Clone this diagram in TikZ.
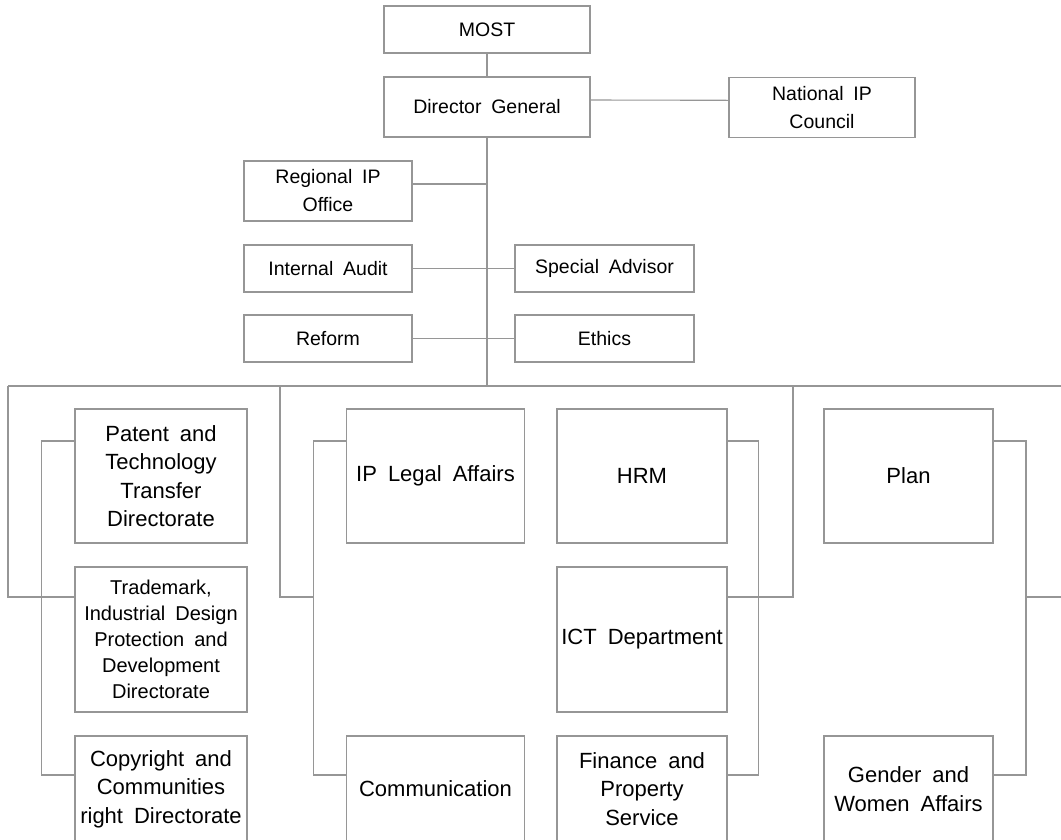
\documentclass[tikz,border=0pt]{standalone}
\usepackage{fontspec}
\setmainfont[WordSpace=1.8]{Liberation Sans}
\usepackage{tikz}
\definecolor{linegray}{RGB}{150,150,150}

\begin{document}
\begin{tikzpicture}[x=1pt, y=-1pt,
    unit/.style={draw=linegray, line width=1.1pt, inner sep=0pt, align=center},
    office/.style={unit, font=\fontsize{19.5}{28}\selectfont},
    dept/.style={unit, font=\fontsize{22}{28.5}\selectfont, minimum height=134pt},
    link/.style={draw=linegray, line width=1.1pt}]
  \useasboundingbox (0,0) rectangle (1061,839);
  \clip (0,0) rectangle (1061,839);
  % top of the chart
  \node (most) at (487,29.5) [office, minimum width=206pt, minimum height=47pt] {MOST};
  \node (dg) at (487,107) [office, minimum width=206pt, minimum height=60pt] {Director General};
  \node (council) at (822,107.3) [office, minimum width=186pt, minimum height=60pt] {National IP\\Council};
  \node (regional) at (328,191) [office, minimum width=168pt, minimum height=60pt] {Regional IP\\Office};
  \node (audit) at (328,268.5) [office, minimum width=168pt, minimum height=47pt] {Internal Audit};
  \node (advisor) at (604.5,268.5) [office, minimum width=179pt, minimum height=47pt] {Special Advisor};
  \node (reform) at (328,338.5) [office, minimum width=168pt, minimum height=47pt] {Reform};
  \node (ethics) at (604.5,338.5) [office, minimum width=179pt, minimum height=47pt] {Ethics};
  % directorates and departments
  \node (patent) at (161,476) [dept, minimum width=172pt] {Patent and\\Technology\\Transfer\\Directorate};
  \node (trademark) at (161,639.5) [dept, minimum width=172pt, minimum height=145pt, font=\fontsize{20}{26}\selectfont] {Trademark,\\Industrial Design\\Protection and\\Development\\Directorate};
  \node (copyright) at (161,789) [dept, minimum width=172pt, minimum height=106pt] {Copyright and\\Communities\\right Directorate};
  \node (legal) at (435.5,476) [dept, minimum width=178pt] {IP Legal Affairs};
  \node (comm) at (435.5,789) [dept, minimum width=178pt, minimum height=106pt] {Communication};
  \node (hrm) at (642,476) [dept, minimum width=170pt] {HRM};
  \node (ict) at (642,639.5) [dept, minimum width=170pt, minimum height=145pt] {ICT Department};
  \node (finance) at (642,789) [dept, minimum width=170pt, minimum height=106pt] {Finance and\\Property\\Service};
  \node (plan) at (908.5,476) [dept, minimum width=169pt] {Plan};
  \node (gender) at (908.5,789) [dept, minimum width=169pt, minimum height=106pt] {Gender and\\Women Affairs};
  % junctions
  \coordinate (hub) at (487,386);
  \coordinate (d1) at (8,386);
  \coordinate (d2) at (280,386);
  \coordinate (d3) at (793,386);
  \coordinate (d4) at (1075,386);
  \coordinate (s1) at (41.7,597);
  \coordinate (s2) at (313.3,597);
  \coordinate (s3) at (758.7,597);
  \coordinate (s4) at (1026,597);
  % connectors
  \draw [link] (most) -- (dg);
  \draw [link] ([yshift=7pt]dg.east) -- ([yshift=7pt]council.west);
  \draw [link] (dg) -- (hub);
  \draw [link] ([yshift=7pt]regional.east) -- ([yshift=7pt]regional.east -| hub);
  \draw [link] (audit) -- (advisor);
  \draw [link] (reform) -- (ethics);
  \draw [link] (d1) -- (d4);
  \draw [link] (d1) |- ([yshift=42.5pt]trademark.west);
  \draw [link] (d2) |- (s2);
  \draw [link] (d3) |- ([yshift=42.5pt]ict.east);
  \draw [link] (d4) |- (s4);
  \draw [link] ([yshift=35pt]patent.west) -| (s1) |- ([yshift=14pt]copyright.west);
  \draw [link] ([yshift=35pt]legal.west) -| (s2) |- ([yshift=14pt]comm.west);
  \draw [link] ([yshift=35pt]hrm.east) -| (s3) |- ([yshift=14pt]finance.east);
  \draw [link] ([yshift=35pt]plan.east) -| (s4) |- ([yshift=14pt]gender.east);
\end{tikzpicture}
\end{document}
